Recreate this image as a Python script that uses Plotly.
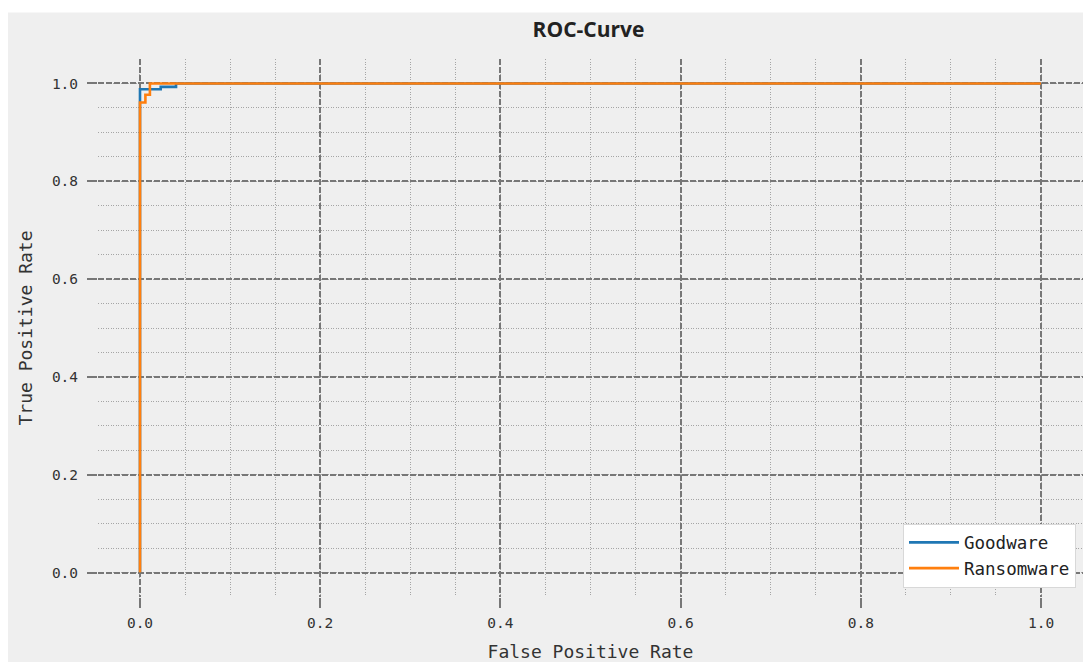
import plotly.graph_objects as go

# ROC data
goodware_fpr = [0.0, 0.0, 0.023, 0.040, 1.0]
goodware_tpr = [0.0, 0.988, 0.993, 1.0, 1.0]
ransomware_fpr = [0.0, 0.0, 0.0060, 0.0110, 1.0]
ransomware_tpr = [0.0, 0.961, 0.977, 1.0, 1.0]

tick_vals = [0.0, 0.2, 0.4, 0.6, 0.8, 1.0]
tick_text = ["0.0", "0.2", "0.4", "0.6", "0.8", "1.0"]

W, H = 1083, 662
ML, MR, MT, MB = 98, 0, 58.5, 64.5
plot_w = W - ML - MR
plot_h = H - MT - MB

mono = "DejaVu Sans Mono"
grid_major = "#777777"
grid_minor = "#a5a5a5"
bg = "#efefef"

fig = go.Figure()
fig.add_trace(go.Scatter(x=goodware_fpr, y=goodware_tpr, mode="lines", name="Goodware",
                         line=dict(color="#1f77b4", width=2.6, shape="hv")))
fig.add_trace(go.Scatter(x=ransomware_fpr, y=ransomware_tpr, mode="lines", name="Ransomware",
                         line=dict(color="#ff7f0e", width=2.6, shape="hv")))

axis_common = dict(
    tickvals=tick_vals, ticktext=tick_text,
    showgrid=True, gridcolor=grid_major, gridwidth=1.6, griddash="5.5px,2.5px",
    minor=dict(dtick=0.05, tick0=0, showgrid=True, gridcolor=grid_minor, gridwidth=1,
               griddash="1px,1.5px", ticks=""),
    ticks="outside", ticklen=10, tickwidth=1.6, tickcolor=grid_major,
    tickfont=dict(family=mono, size=14.5, color="#333333"),
    zeroline=False, showline=False, automargin=False,
)

fig.update_xaxes(range=[-0.0466, 1.0466],
                 title=dict(text="False Positive Rate", font=dict(family=mono, size=18, color="#333333"),
                            standoff=22),
                 ticklabelstandoff=3, **axis_common)
fig.update_yaxes(range=[-0.05, 1.05],
                 title=dict(text="True Positive Rate", font=dict(family=mono, size=18, color="#333333"),
                            standoff=14),
                 ticklabelstandoff=6, **axis_common)

# grey figure panel (white strip at top and left edges as in the reference)
fig.add_shape(type="rect", xref="paper", yref="paper", layer="below",
              x0=(8 - ML) / plot_w, x1=1.02, y0=-0.2, y1=(H - MB - 12) / plot_h,
              fillcolor=bg, line=dict(width=0))

fig.update_layout(
    width=W, height=H,
    margin=dict(l=ML, r=MR, t=MT, b=MB, pad=0),
    paper_bgcolor="white", plot_bgcolor=bg,
    title=dict(text="<b>ROC-Curve</b>", x=(ML + plot_w / 2 - 2) / W, xanchor="center",
               y=1 - 30 / H, yanchor="middle",
               font=dict(family="Open Sans", size=21, color="#222222")),
    legend=dict(x=(1076 - ML) / plot_w, xanchor="right", y=(H - MB - 588) / plot_h, yanchor="bottom",
                bgcolor="white", bordercolor="#d8d8d8", borderwidth=1,
                font=dict(family=mono, size=17.5, color="#222222"),
                itemwidth=50, tracegroupgap=2),
    showlegend=True,
)

fig.write_html("out.html")
